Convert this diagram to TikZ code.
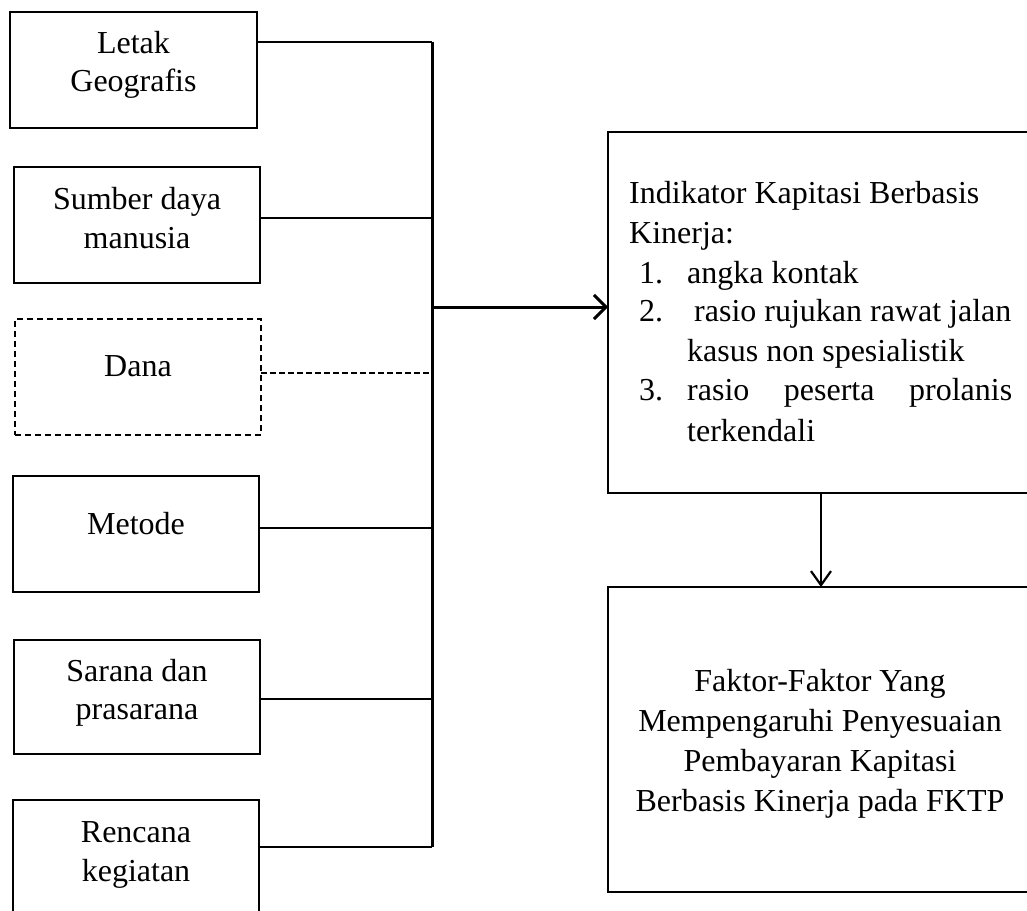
\documentclass[tikz,border=0pt]{standalone}
\usepackage{fontspec}
\setmainfont{Liberation Serif}
\usetikzlibrary{arrows.meta}
\tikzset{
  box/.style={draw, line width=1.5pt, rectangle, inner sep=0pt, outer sep=0pt},
  dbox/.style={box, dash pattern=on 6pt off 4pt},
  lbl/.style={anchor=base, inner sep=0pt, font=\fontsize{32}{40}\selectfont},
  lblw/.style={anchor=base west, inner sep=0pt, font=\fontsize{32}{40}\selectfont},
  conn/.style={line width=2.3pt},
  dconn/.style={line width=2.3pt, dash pattern=on 6pt off 3pt},
  bus/.style={line width=3pt},
  arr/.style={line width=3pt, -{Straight Barb[length=12pt,width=24pt,line width=3pt]}},
  darr/.style={line width=2.2pt, -{Straight Barb[length=14pt,width=20pt,line width=2.2pt]}},
}
\begin{document}
\begin{tikzpicture}[x=1pt,y=-1pt]
\useasboundingbox (0,0) rectangle (1027,910);
\clip (0,0) rectangle (1027,910);
% left boxes
\node[box, minimum width=247pt, minimum height=116pt] (b1) at (133.5,70) {};
\node[box, minimum width=246pt, minimum height=116pt] (b2) at (137,225) {};
\node[dbox, minimum width=246pt, minimum height=116pt] (b3) at (138,377) {};
\node[box, minimum width=246pt, minimum height=116pt] (b4) at (136,534) {};
\node[box, minimum width=246pt, minimum height=114pt] (b5) at (137,697) {};
\node[box, minimum width=246pt, minimum height=130pt] (b6) at (136,865) {};
% labels
\node[lbl] (t1a) at (133.5,53) {Letak};
\node[lbl] (t1b) at (133.5,91) {Geografis};
\node[lbl] (t2a) at (137,209) {Sumber daya};
\node[lbl] (t2b) at (137,248) {manusia};
\node[lbl] (t3) at (138,376) {Dana};
\node[lbl] (t4) at (136,534) {Metode};
\node[lbl] (t5a) at (137,681) {Sarana dan};
\node[lbl] (t5b) at (137,719) {prasarana};
\node[lbl] (t6a) at (136,842) {Rencana};
\node[lbl] (t6b) at (136,881) {kegiatan};
% right boxes
\node[box, minimum width=430pt, minimum height=361pt] (r1) at (823,312.5) {};
\node[box, minimum width=430pt, minimum height=305pt] (r2) at (823,739.5) {};
\node[lblw] (i0) at (629,203) {Indikator Kapitasi Berbasis};
\node[lblw] (i1) at (629,243) {Kinerja:};
\node[lblw] (n1) at (639,283) {1.};
\node[lblw] (i2) at (687,283) {angka kontak};
\node[lblw] (n2) at (639,321) {2.};
\node[lblw] (i3) at (687,321) {\hspace{7pt}rasio rujukan rawat jalan};
\node[lblw] (i4) at (687,361) {kasus non spesialistik};
\node[lblw] (n3) at (639,400) {3.};
\node[lblw] (i5) at (687,400) {\makebox[325pt][s]{rasio peserta prolanis}};
\node[lblw] (i6) at (687,441) {terkendali};
\node[lbl] (f1) at (820,691) {Faktor-Faktor Yang};
\node[lbl] (f2) at (820,731) {Mempengaruhi Penyesuaian};
\node[lbl] (f3) at (820,771) {Pembayaran Kapitasi};
\node[lbl] (f4) at (820,811) {Berbasis Kinerja pada FKTP};
% junctions
\coordinate (j1) at (432,42);
\coordinate (j2) at (432,218);
\coordinate (j3) at (432,373);
\coordinate (j4) at (432,528);
\coordinate (j5) at (432,699);
\coordinate (j6) at (432,847);
\coordinate (ja) at (432,307);
\coordinate (ax) at (821,0);
% connectors
\draw[conn] (b1.east |- j1) -- (j1);
\draw[conn] (b2.east |- j2) -- (j2);
\draw[dconn] (b3.east |- j3) -- (j3);
\draw[conn] (b4.east |- j4) -- (j4);
\draw[conn] (b5.east |- j5) -- (j5);
\draw[conn] (b6.east |- j6) -- (j6);
\draw[bus] (j1) -- (j6);
\draw[arr] (ja) -- (ja -| r1.west);
\draw[darr] (r1.south -| ax) -- (r2.north -| ax);
\end{tikzpicture}
\end{document}
